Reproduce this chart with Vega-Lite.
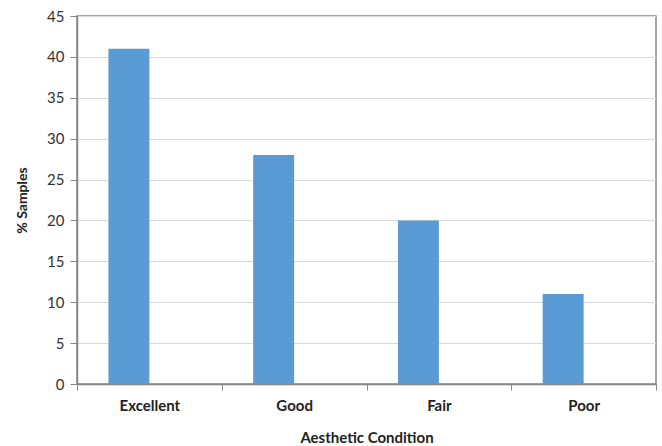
{
  "$schema": "https://vega.github.io/schema/vega-lite/v6.json",
  "width": 579,
  "height": 368,
  "autosize": {"type": "none"},
  "padding": {"left": 77, "top": 16, "right": 6, "bottom": 62},
  "background": "white",
  "config": {
    "view": {"stroke": "#868686", "strokeWidth": 1.5},
    "font": "Lato"
  },
  "data": {
    "values": [
      {"condition": "Excellent", "series": "Series 1", "pct": 41},
      {"condition": "Good", "series": "Series 1", "pct": 28},
      {"condition": "Fair", "series": "Series 1", "pct": 20},
      {"condition": "Poor", "series": "Series 1", "pct": 11}
    ]
  },
  "mark": {"type": "bar", "color": "#5B9BD5"},
  "encoding": {
    "x": {
      "field": "condition",
      "type": "nominal",
      "sort": ["Excellent", "Good", "Fair", "Poor"],
      "scale": {"paddingInner": 0, "paddingOuter": 0},
      "axis": {
        "title": "Aesthetic Condition",
        "titleFont": "Lato",
        "titleFontSize": 15,
        "titleFontWeight": "bold",
        "titleColor": "#222222",
        "titlePadding": 17,
        "labelAngle": 0,
        "labelFont": "Lato",
        "labelFontSize": 15,
        "labelFontWeight": "bold",
        "labelColor": "#222222",
        "labelPadding": 8,
        "tickBand": "extent",
        "tickColor": "#868686",
        "tickSize": 6,
        "domainColor": "#868686",
        "domainWidth": 1.5,
        "grid": false
      }
    },
    "xOffset": {
      "field": "series",
      "type": "nominal",
      "scale": {"domain": ["Series 1", "Series 2"], "paddingInner": 0, "paddingOuter": 0.768}
    },
    "y": {
      "field": "pct",
      "type": "quantitative",
      "scale": {"domain": [0, 45], "nice": false},
      "axis": {
        "title": "% Samples",
        "titleFont": "Lato",
        "titleFontSize": 14,
        "titleFontWeight": "bold",
        "titleColor": "#222222",
        "titlePadding": 17,
        "values": [0, 5, 10, 15, 20, 25, 30, 35, 40, 45],
        "labelFont": "Lato",
        "labelFontSize": 15,
        "labelColor": "#333333",
        "labelPadding": 6,
        "tickColor": "#868686",
        "tickSize": 7,
        "domainColor": "#868686",
        "domainWidth": 1.5,
        "gridColor": "#d9d9d9",
        "gridWidth": 1.2
      }
    }
  }
}
